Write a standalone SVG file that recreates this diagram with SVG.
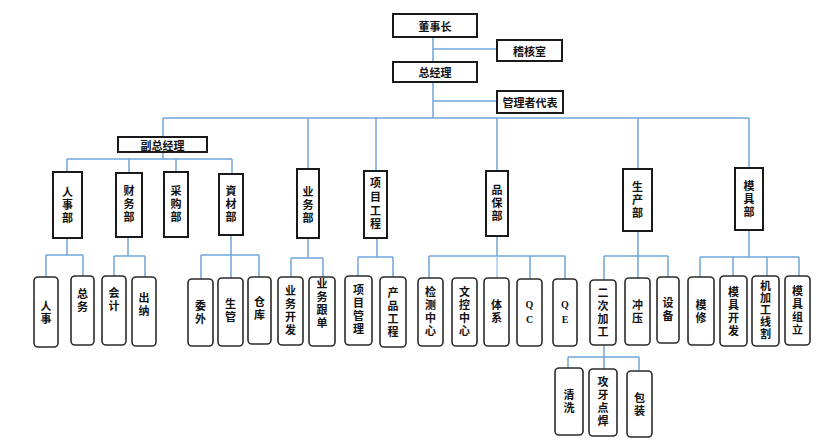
<svg xmlns="http://www.w3.org/2000/svg" width="822" height="444" viewBox="0 0 822 444">
<style>
.bx{fill:#fff;stroke:#1a1a1a;stroke-width:2}
.lf{fill:#fff;stroke:#2b2b2b;stroke-width:1.6}
.ln{stroke:#6fa6dc;stroke-width:1.5;fill:none}
.lt{stroke:#a9cbea;stroke-width:1.5;fill:none}
text{font-family:"Noto Sans CJK SC","Noto Sans",sans-serif;font-weight:bold;font-size:11px;fill:#111;text-anchor:middle;dominant-baseline:central}
.v{writing-mode:vertical-rl;text-orientation:upright;letter-spacing:2px}
.v5{letter-spacing:1px}
.v4{letter-spacing:2.7px}
.s{font-family:"Liberation Serif",serif;font-size:10px;letter-spacing:4px}
</style>
<rect width="822" height="444" fill="#fff"/>
<g id="connectors">
<path class="ln" d="M433 37V62M433 82V118M433 49H497M433 101H497"/>
<path class="ln" d="M163 118H749M163 118V137M308 118V169M376 118V171M497 118V171M638 118V169M749 118V168"/>
<path class="ln" d="M163 152V159M67 159H232M67 159V172M129 159V173M176 159V172M232 159V174"/>
<path class="ln" d="M67 238V255M46 255H83M46 255V277M83 255V276"/>
<path class="ln" d="M128 237V256M114 256H145M114 256V276M145 256V277"/>
<path class="ln" d="M231 235V278M201 255H259M201 255V279M259 255V277"/>
<path class="ln" d="M308 238V258M291 258H323M291 258V277M323 258V277"/>
<path class="ln" d="M377 238V257M358 257H393M358 257V276M393 257V277"/>
<path class="ln" d="M497 236V256M429 256H565M429 256V278M530 256V279M565 256V279"/>
<path class="lt" d="M497 256V278"/>
<path class="ln" d="M638 231V278M604 256H668M604 256V280M668 256V277"/>
<path class="ln" d="M749 230V257M700 257H799M700 257V277M733 257V276M767 257V276M799 257V276"/>
<path class="ln" d="M604 345V369M568 357H639M568 357V368M639 357V371"/>
</g>
<g id="n-dsz"><rect class="bx" x="393" y="14" width="84" height="23"/><text x="435" y="25.5">董事长</text></g>
<g id="n-jhs"><rect class="bx" x="497" y="40" width="65" height="21"/><text x="529.5" y="50.5">稽核室</text></g>
<g id="n-zjl"><rect class="bx" x="393" y="62" width="84" height="20"/><text x="435" y="72">总经理</text></g>
<g id="n-glzdb"><rect class="bx" x="497" y="91" width="66" height="22"/><text x="530" y="102">管理者代表</text></g>
<g id="n-fzjl"><rect class="bx" x="118" y="137" width="89" height="15"/><text x="162.5" y="144.5">副总经理</text></g>

<g id="n-rsb"><rect class="bx" x="53" y="172" width="29" height="66"/><text class="v" x="67.5" y="205.5">人事部</text></g>
<g id="n-cwb"><rect class="bx" x="116" y="173" width="26" height="64"/><text class="v" x="129" y="205">财务部</text></g>
<g id="n-cgb"><rect class="bx" x="164" y="172" width="24" height="65"/><text class="v" x="176" y="205">采购部</text></g>
<g id="n-zcb"><rect class="bx" x="219" y="174" width="24" height="61"/><text class="v" x="231" y="205">資材部</text></g>
<g id="n-ywb"><rect class="bx" x="297" y="169" width="22" height="69"/><text class="v" x="308" y="205.5">业务部</text></g>
<g id="n-xmgc"><rect class="bx" x="364" y="171" width="23" height="67"/><text class="v v4" x="375.5" y="205">项目工程</text></g>
<g id="n-pbb"><rect class="bx" x="486" y="171" width="22" height="65"/><text class="v" x="497" y="204">品保部</text></g>
<g id="n-scb"><rect class="bx" x="623" y="169" width="29" height="62"/><text class="v" x="637.5" y="201">生产部</text></g>
<g id="n-mjb"><rect class="bx" x="735" y="168" width="28" height="62"/><text class="v" x="749" y="200">模具部</text></g>

<g id="n-rs"><rect class="lf" x="34" y="277" width="24" height="70" rx="4"/><text class="v" x="46" y="313">人事</text></g>
<g id="n-zw"><rect class="lf" x="71" y="276" width="23" height="69" rx="4"/><text class="v" x="82.5" y="301">总务</text></g>
<g id="n-kj"><rect class="lf" x="102" y="276" width="24" height="69" rx="4"/><text class="v" x="114" y="300">会计</text></g>
<g id="n-cn"><rect class="lf" x="132" y="277" width="24" height="69" rx="4"/><text class="v" x="144" y="305">出纳</text></g>
<g id="n-ww"><rect class="lf" x="188" y="279" width="25" height="67" rx="4"/><text class="v" x="200.5" y="313">委外</text></g>
<g id="n-sg"><rect class="lf" x="218" y="278" width="25" height="68" rx="4"/><text class="v" x="230.5" y="311">生管</text></g>
<g id="n-ck"><rect class="lf" x="248" y="277" width="23" height="67" rx="4"/><text class="v" x="259.5" y="309">仓库</text></g>
<g id="n-ywkf"><rect class="lf" x="278" y="277" width="25" height="68" rx="4"/><text class="v" x="290.5" y="311">业务开发</text></g>
<g id="n-ywgd"><rect class="lf" x="309" y="277" width="26" height="69" rx="4"/><text class="v" x="322" y="304.5">业务跟单</text></g>
<g id="n-xmgl"><rect class="lf" x="345" y="276" width="27" height="69" rx="4"/><text class="v" x="358.5" y="310.5">项目管理</text></g>
<g id="n-cpgc"><rect class="lf" x="380" y="277" width="26" height="70" rx="4"/><text class="v" x="393" y="313.5">产品工程</text></g>
<g id="n-jczx"><rect class="lf" x="418" y="278" width="25" height="68" rx="4"/><text class="v" x="430.5" y="312.5">检测中心</text></g>
<g id="n-wkzx"><rect class="lf" x="452" y="278" width="25" height="68" rx="4"/><text class="v" x="464.5" y="312.5">文控中心</text></g>
<g id="n-tx"><rect class="lf" x="484" y="278" width="25" height="68" rx="4"/><text class="v" x="496.5" y="312">体系</text></g>
<g id="n-qc"><rect class="lf" x="517" y="279" width="25" height="67" rx="4"/><text class="v s" x="529.5" y="314">QC</text></g>
<g id="n-qe"><rect class="lf" x="553" y="279" width="24" height="67" rx="4"/><text class="v s" x="565" y="314">QE</text></g>
<g id="n-ecjg"><rect class="lf" x="590" y="280" width="26" height="65" rx="4"/><text class="v" x="603" y="313.5">二次加工</text></g>
<g id="n-cy"><rect class="lf" x="625" y="278" width="25" height="67" rx="4"/><text class="v" x="637.5" y="312">冲压</text></g>
<g id="n-sb"><rect class="lf" x="657" y="277" width="22" height="66" rx="4"/><text class="v" x="668" y="310">设备</text></g>
<g id="n-mx"><rect class="lf" x="688" y="277" width="26" height="68" rx="4"/><text class="v" x="701" y="312">模修</text></g>
<g id="n-mjkf"><rect class="lf" x="720" y="276" width="27" height="70" rx="4"/><text class="v" x="733.5" y="312.5">模具开发</text></g>
<g id="n-jjgxg"><rect class="lf" x="752" y="276" width="27" height="70" rx="4"/><text class="v v5" x="765.5" y="310.5">机加工线割</text></g>
<g id="n-mjzl"><rect class="lf" x="785" y="276" width="25" height="69" rx="4"/><text class="v" x="797.5" y="311.5">模具组立</text></g>
<g id="n-qx"><rect class="lf" x="555" y="368" width="28" height="67" rx="4"/><text class="v" x="569" y="402">清洗</text></g>
<g id="n-gydh"><rect class="lf" x="589" y="369" width="28" height="67" rx="4"/><text class="v" x="603" y="402.5">攻牙点焊</text></g>
<g id="n-bz"><rect class="lf" x="627" y="371" width="25" height="66" rx="4"/><text class="v" x="639.5" y="405">包装</text></g>
</svg>
